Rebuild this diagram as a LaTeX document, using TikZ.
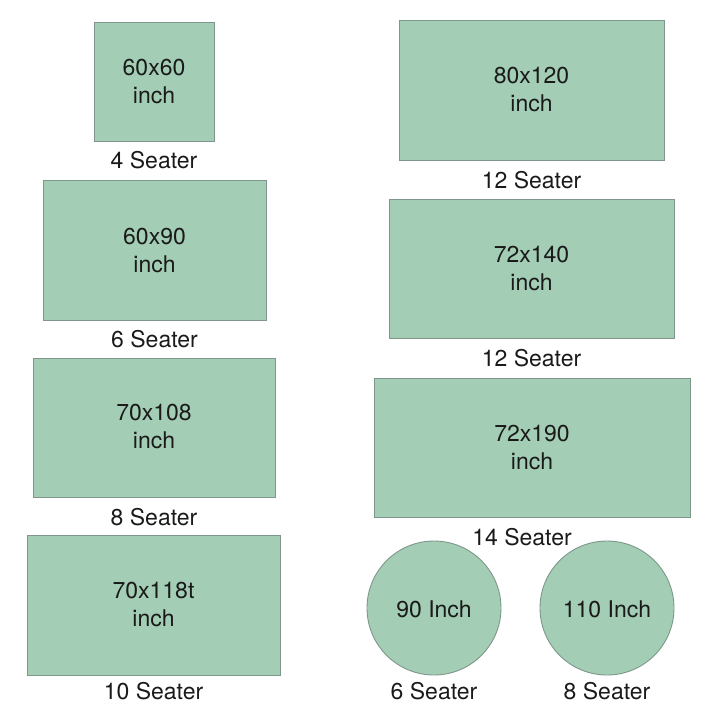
\documentclass[tikz,border=0pt]{standalone}
\usepackage{fontspec}
\setmainfont{TeX Gyre Heros}
\definecolor{tablefill}{HTML}{A3CEB5}
\definecolor{tableedge}{HTML}{7E978A}
\definecolor{inktext}{HTML}{1A1A1A}
\begin{document}
\begin{tikzpicture}[x=1pt,y=-1pt,
  tablebox/.style={draw=tableedge,fill=tablefill,line width=0.9pt},
  tabletext/.style={align=center,text=inktext,font=\fontsize{23}{28}\selectfont,inner sep=0pt},
  seatlabel/.style={text=inktext,font=\fontsize{23}{26}\selectfont,inner sep=0pt}]
\useasboundingbox[fill=white] (0,0) rectangle (720,720);
% left column
\draw[tablebox] (94,22) rectangle (214,141);
\node[tabletext] (t1) at (154,82) {60x60\\inch};
\node[seatlabel] (l1) at (154,160) {4 Seater};
\draw[tablebox] (43,180) rectangle (266,320);
\node[tabletext] (t2) at (154.5,251) {60x90\\inch};
\node[seatlabel] (l2) at (154.5,339) {6 Seater};
\draw[tablebox] (33,358) rectangle (275,497);
\node[tabletext] (t3) at (154,427) {70x108\\inch};
\node[seatlabel] (l3) at (154,517) {8 Seater};
\draw[tablebox] (27,535) rectangle (280,675);
\node[tabletext] (t4) at (153.5,605) {70x118t\\inch};
\node[seatlabel] (l4) at (153.5,691) {10 Seater};
% right column
\draw[tablebox] (399,20) rectangle (664,160);
\node[tabletext] (t5) at (531.5,90) {80x120\\inch};
\node[seatlabel] (l5) at (531.5,180) {12 Seater};
\draw[tablebox] (389,199) rectangle (674,338);
\node[tabletext] (t6) at (531.5,269) {72x140\\inch};
\node[seatlabel] (l6) at (531.5,358) {12 Seater};
\draw[tablebox] (374,378) rectangle (690,517);
\node[tabletext] (t7) at (532,448) {72x190\\inch};
\node[seatlabel] (l7) at (522,537) {14 Seater};
% round tables
\draw[tablebox] (434,608) circle (67);
\node[tabletext] (c1) at (434,609) {90 Inch};
\node[seatlabel] (l8) at (434,691) {6 Seater};
\draw[tablebox] (607,608) circle (67);
\node[tabletext] (c2) at (607,609) {110 Inch};
\node[seatlabel] (l9) at (607,691) {8 Seater};
\end{tikzpicture}
\end{document}
